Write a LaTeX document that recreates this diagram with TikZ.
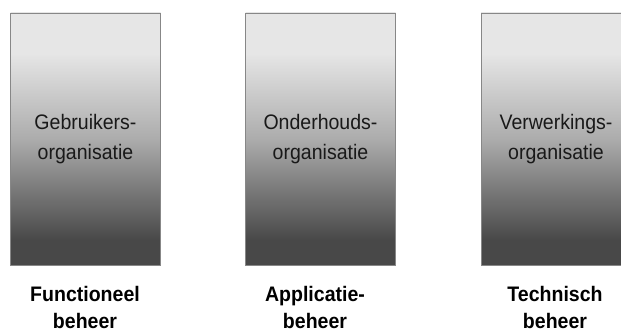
\documentclass[tikz,border=0pt]{standalone}
\usepackage{fontspec}
\setmainfont[FakeStretch=0.93]{Liberation Sans}

\definecolor{boxlight}{RGB}{230,230,230}
\definecolor{boxmid}{RGB}{172,172,172}
\definecolor{boxdark}{RGB}{72,72,72}
\definecolor{boxline}{RGB}{135,135,135}
\pgfdeclareverticalshading{orgfade}{100bp}{color(0bp)=(boxdark); color(30bp)=(boxdark); color(50bp)=(boxmid); color(67bp)=(boxlight); color(100bp)=(boxlight)}

\begin{document}
\begin{tikzpicture}
  [x=1pt,y=1pt,
   orgbox/.style={rectangle,draw=boxline,line width=0.8pt,shading=orgfade,
     minimum width=150pt,minimum height=252pt,inner sep=0pt,
     align=center,text=black!90,font=\fontsize{21}{30}\selectfont},
   taak/.style={align=center,inner sep=0pt,font=\fontsize{21}{27}\selectfont\bfseries}]
  \useasboundingbox (0,0) rectangle (621,331);
  \clip (0,0) rectangle (621,331);

  \node[orgbox] (gebr) at (85.5,192) {Gebruikers-\\organisatie};
  \node[orgbox] (onder) at (320.5,192) {Onderhouds-\\organisatie};
  \node[orgbox] (verw) at (556,192) {Verwerkings-\\organisatie};

  \node[taak] (fb) at (85,24) {Functioneel\\beheer};
  \node[taak] (ab) at (315,24) {Applicatie-\\beheer};
  \node[taak] (tb) at (555,24) {Technisch\\beheer};

\end{tikzpicture}
\end{document}
